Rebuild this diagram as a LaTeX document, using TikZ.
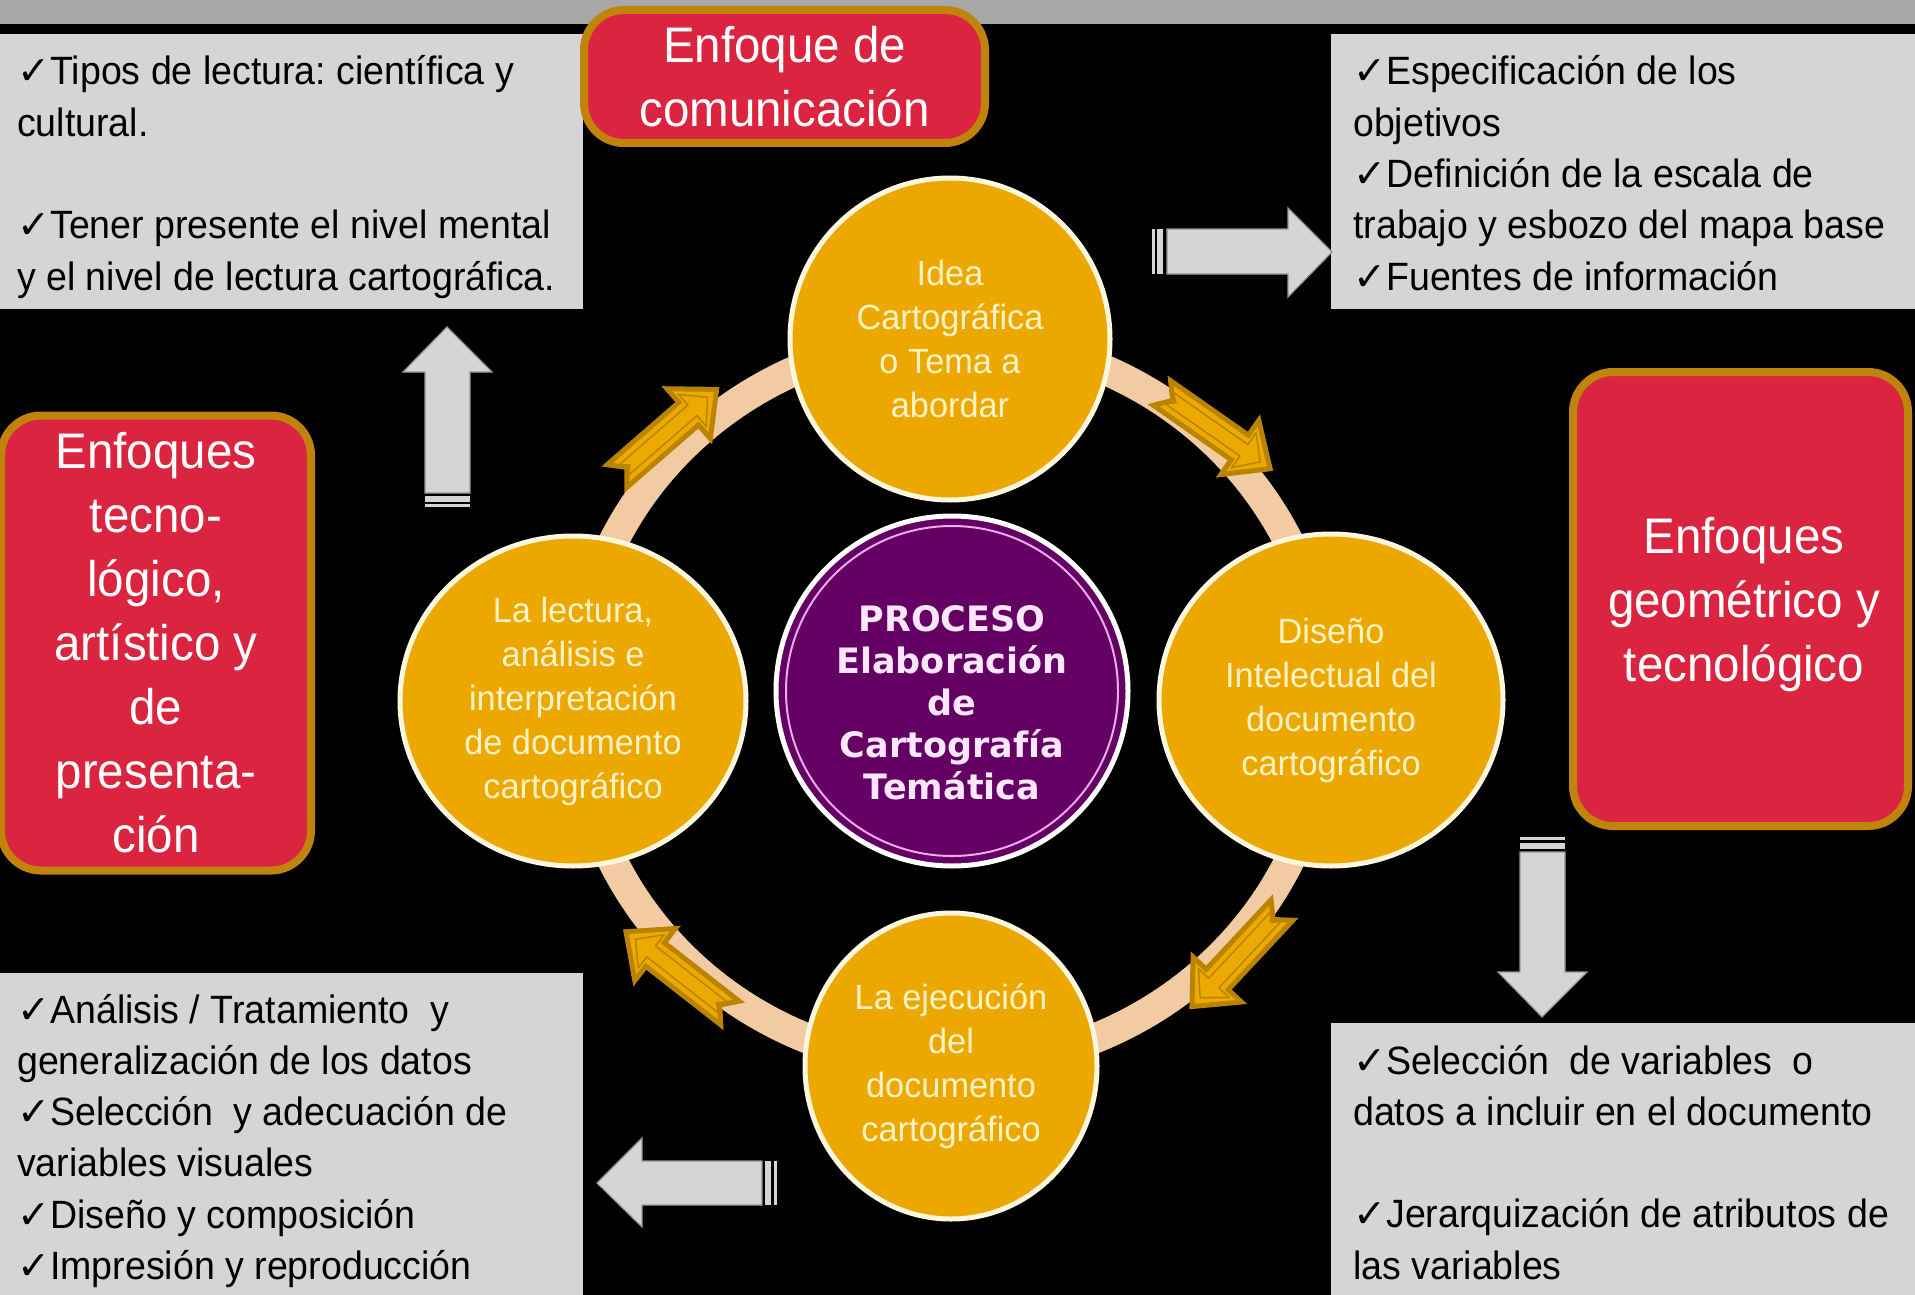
\documentclass[tikz,border=0pt]{standalone}
\usepackage{fontspec}
\setmainfont{Liberation Sans}
\newfontfamily\boxfont{Liberation Sans}[FakeStretch=0.95]
\newfontfamily\redfont{Liberation Sans}[FakeStretch=0.95]
\newfontfamily\circfont{Liberation Sans}[FakeStretch=0.98]
\newfontfamily\chkfont{DejaVu Sans}
\newfontfamily\procfont{DejaVu Sans}
\usetikzlibrary{shapes.geometric}
\definecolor{barc}{RGB}{168,168,168}
\definecolor{boxgray}{RGB}{213,213,215}
\definecolor{redf}{RGB}{218,36,64}
\definecolor{goldb}{RGB}{192,132,12}
\definecolor{orangef}{RGB}{237,168,0}
\definecolor{creamline}{RGB}{255,246,222}
\definecolor{creamtext}{RGB}{255,242,196}
\definecolor{ringc}{RGB}{243,203,163}
\definecolor{purplef}{RGB}{100,0,100}
\definecolor{pinkline}{RGB}{236,170,236}
\definecolor{pinktext}{RGB}{252,230,252}
\definecolor{goldlight}{RGB}{236,170,0}
\definecolor{golddark}{RGB}{186,132,0}
\definecolor{arrowline}{RGB}{150,150,150}
\newcommand\ck{{\chkfont ✓}}
\newcommand\natsp{\spaceskip=0pt\relax}
\newcommand\goldarrow[3]{%
  \begin{scope}[shift={(#1,#2)},rotate=#3]
    \filldraw[fill=goldlight,draw=golddark,line width=5pt,line join=miter]
      (0,15) -- (95,15) -- (95,33) -- (132,0) -- (95,-33) -- (95,-15) -- (0,-15) -- (13,0) -- cycle;
    \draw[golddark,line width=1.5pt,line join=miter]
      (9,7) -- (100,7) -- (100,21) -- (120,0) -- (100,-21) -- (100,-7) -- (9,-7) -- (17,0) -- cycle;
  \end{scope}}
\begin{document}
\begin{tikzpicture}[x=1pt,y=-1pt,
  infobox/.style={rectangle,fill=boxgray,draw=none,inner sep=0,anchor=north west},
  infotext/.style={anchor=base west,inner sep=0,align=left,text width=560pt,
    font=\boxfont\frenchspacing\fontsize{39.5}{51.3}\selectfont,text=black},
  redbox/.style={rectangle,rounded corners=40pt,fill=redf,draw=goldb,line width=8pt,
    align=center,text=white,inner sep=0,font=\redfont\fontsize{50}{64}\selectfont},
  redtext/.style={align=center,text=white,inner sep=0,font=\redfont\fontsize{50}{64}\selectfont},
  orangec/.style={ellipse,fill=orangef,draw=creamline,line width=5pt,inner sep=0,
    align=center,text=creamtext,font=\circfont\fontsize{35}{44}\selectfont},
  purplec/.style={ellipse,fill=purplef,draw=white,line width=5pt,inner sep=0},
  proctext/.style={align=center,text=pinktext,inner sep=0,
    font=\procfont\bfseries\fontsize{35}{42}\selectfont},
  grayarrow/.style={fill=boxgray,draw=arrowline,line width=1.2pt,line join=miter},
  graystripe/.style={fill=boxgray,draw=none}]
\useasboundingbox (0,0) rectangle (1915,1295);
\fill[black] (0,0) rectangle (1915,1295);
\fill[barc] (0,0) rectangle (1915,24);

% grey information boxes
\node[infobox,minimum width=583pt,minimum height=275pt] (tlbox) at (0,34) {};
\node[infobox,minimum width=584pt,minimum height=275pt] (trbox) at (1331,34) {};
\node[infobox,minimum width=583pt,minimum height=324pt] (blbox) at (0,973) {};
\node[infobox,minimum width=584pt,minimum height=272pt] (brbox) at (1331,1023) {};

\node[infotext] (tltext) at (17,85) {\natsp\ck Tipos de lectura: científica y\\
cultural.\\[51.3pt]
\ck Tener presente el nivel mental\\
y el nivel de lectura cartográfica.};
\node[infotext] (trtext) at (1353,85) {\natsp\ck Especificación de los\\
objetivos\\
\ck Definición de la escala de\\
trabajo y esbozo del mapa base\\
\ck Fuentes de información};
\node[infotext] (bltext) at (17,1023) {\natsp\ck Análisis / Tratamiento\ \ y\\
generalización de los datos\\
\ck Selección\ \ y adecuación de\\
variables visuales\\
\ck Diseño y composición\\
\ck Impresión y reproducción};
\node[infotext] (brtext) at (1353,1074) {\natsp\ck Selección\ \ de variables\ \ o\\
datos a incluir en el documento\\[51.3pt]
\ck Jerarquización de atributos de\\
las variables};

% red approach boxes
\node[redbox,minimum width=401pt,minimum height=133pt] (comm) at (784.5,76.5) {Enfoque de\\comunicación};
\node[redbox,minimum width=310pt,minimum height=455pt] (tecno) at (156,643) {Enfoques\\tecno-\\lógico,\\artístico y\\de\\presenta-\\ción};
\node[redbox,minimum width=335pt,minimum height=454pt] (geom) at (1740.5,599) {};
\node[redtext] (geomtxt) at (1744,605) {Enfoques\\geométrico y\\tecnológico};

% grey block arrows
\filldraw[grayarrow] (425,493) -- (425,372) -- (403,372) -- (447,327) -- (492,372) -- (470,372) -- (470,493) -- cycle;
\fill[graystripe] (425,496) rectangle (470,502);
\fill[graystripe] (425,504) rectangle (470,507);

\filldraw[grayarrow] (1167,229) -- (1288,229) -- (1288,208) -- (1332,252) -- (1288,297) -- (1288,274) -- (1167,274) -- cycle;
\fill[graystripe] (1157,229) rectangle (1163,274);
\fill[graystripe] (1152,229) rectangle (1155,274);

\filldraw[grayarrow] (1520,852) -- (1565,852) -- (1565,972) -- (1587,972) -- (1542,1017) -- (1498,972) -- (1520,972) -- cycle;
\fill[graystripe] (1520,843) rectangle (1565,849);
\fill[graystripe] (1520,837) rectangle (1565,840);

\filldraw[grayarrow] (762,1161) -- (642,1161) -- (642,1138) -- (597,1183) -- (642,1227) -- (642,1205) -- (762,1205) -- cycle;
\fill[graystripe] (765,1161) rectangle (771,1205);
\fill[graystripe] (774,1161) rectangle (777,1205);

% ring
\draw[ringc,line width=30pt] (951,702) ellipse [x radius=376pt, y radius=364pt];

% gold arrows on the ring
\goldarrow{617}{476}{41}
\goldarrow{1162}{393}{-35}
\goldarrow{1282}{910}{-133}
\goldarrow{730}{1013}{142}

% circles
\node[orangec,minimum width=320pt,minimum height=322pt] (idea) at (950,339) {\natsp Idea\\Cartográfica\\o Tema a\\abordar};
\node[orangec,minimum width=346pt,minimum height=330pt] (lect) at (573,701) {\natsp La lectura,\\análisis e\\interpretación\\de documento\\cartográfico};
\node[orangec,minimum width=344pt,minimum height=332pt] (dise) at (1331,700) {\natsp Diseño\\Intelectual del\\documento\\cartográfico};
\node[orangec,minimum width=292pt,minimum height=306pt] (ejec) at (951,1066) {\natsp La ejecución\\del\\documento\\cartográfico};

\node[purplec,minimum width=352pt,minimum height=350pt] (proc) at (952,691) {};
\draw[pinkline,line width=2pt] (proc.center) ellipse [x radius=166pt, y radius=165pt];
\node[proctext] (proctxt) at (952,703) {PROCESO\\Elaboración\\de\\Cartografía\\Temática};
\end{tikzpicture}
\end{document}
